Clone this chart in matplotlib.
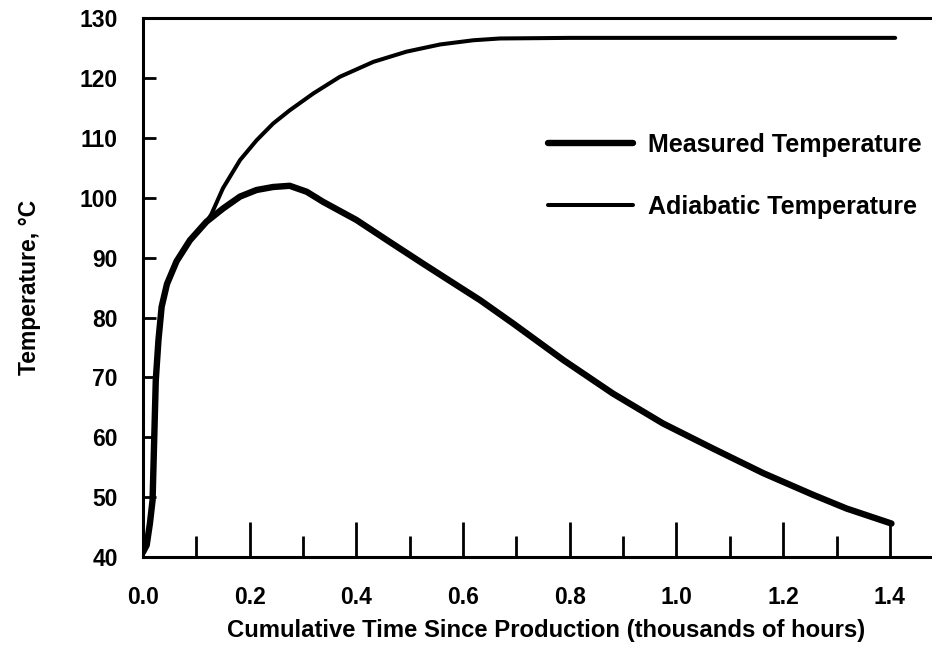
import matplotlib.pyplot as plt
from matplotlib.ticker import MultipleLocator

plt.rcParams['font.family'] = ['Liberation Sans', 'DejaVu Sans']
plt.rcParams['font.weight'] = 'bold'

# measured temperature (thousands of hours, deg C)
meas_x = [0.0, 0.007, 0.013, 0.018, 0.021, 0.024, 0.029, 0.035, 0.045, 0.063,
          0.088, 0.119, 0.15, 0.182, 0.213, 0.244, 0.275, 0.307, 0.338, 0.4,
          0.463, 0.525, 0.588, 0.632, 0.694, 0.788, 0.881, 0.975, 1.069, 1.163,
          1.256, 1.319, 1.403]
meas_y = [40.8, 42.0, 45.6, 49.5, 59.5, 69.5, 76.2, 81.8, 85.6, 89.4,
          92.9, 96.0, 98.2, 100.2, 101.3, 101.8, 102.0, 101.0, 99.3, 96.3,
          92.6, 89.0, 85.4, 82.9, 79.0, 72.9, 67.3, 62.3, 58.1, 54.0,
          50.4, 48.1, 45.6]

# adiabatic temperature
adia_x = [0.0, 0.007, 0.013, 0.018, 0.021, 0.024, 0.029, 0.035, 0.045, 0.063,
          0.088, 0.119, 0.128, 0.138, 0.15, 0.182, 0.213, 0.244, 0.275, 0.319,
          0.369, 0.432, 0.494, 0.557, 0.619, 0.669, 0.8, 1.0, 1.2, 1.41]
adia_y = [40.8, 42.0, 45.6, 49.5, 59.5, 69.5, 76.2, 81.8, 85.6, 89.4,
          92.9, 96.0, 97.2, 99.2, 101.6, 106.3, 109.6, 112.4, 114.6, 117.4,
          120.2, 122.7, 124.4, 125.6, 126.3, 126.6, 126.7, 126.7, 126.7, 126.7]

fig = plt.figure(figsize=(9.32, 6.47), dpi=100)
ax = fig.add_axes([0.1534, 0.139, 0.8466, 0.833])

ax.plot(meas_x, meas_y, color='black', lw=4.6, solid_capstyle='round',
        solid_joinstyle='round', label='Measured Temperature')
ax.plot(adia_x, adia_y, color='black', lw=2.9, solid_capstyle='round',
        solid_joinstyle='round', label='Adiabatic Temperature')

ax.set_xlim(0, 1.479)
ax.set_ylim(40, 130)
ax.xaxis.set_major_locator(MultipleLocator(0.2))
ax.xaxis.set_minor_locator(MultipleLocator(0.1))
ax.yaxis.set_major_locator(MultipleLocator(10))
ax.xaxis.set_major_formatter(plt.FuncFormatter(lambda v, p: f'{v:.1f}'))

for s in ['left', 'bottom', 'top']:
    ax.spines[s].set_linewidth(2.2)
ax.spines['right'].set_visible(False)

ax.tick_params(axis='x', which='major', direction='in', length=25, width=2,
               pad=21, labelsize=16.5)
ax.tick_params(axis='x', which='minor', direction='in', length=15, width=2)
ax.tick_params(axis='y', which='major', direction='in', length=9, width=2,
               pad=18, labelsize=16.5)

ax.set_xlabel('Cumulative Time Since Production (thousands of hours)',
              fontsize=17.2, fontweight='bold')
ax.xaxis.set_label_coords(0.511, -0.115)
ax.set_ylabel('Temperature, °C', fontsize=16.5, fontweight='bold', labelpad=28)

ax.legend(loc='upper left', bbox_to_anchor=(0.501, 0.805), frameon=False,
          fontsize=18, handlelength=3.4, handletextpad=0.6, labelspacing=1.5,
          borderaxespad=0)

fig.savefig('out.png', dpi=100)
